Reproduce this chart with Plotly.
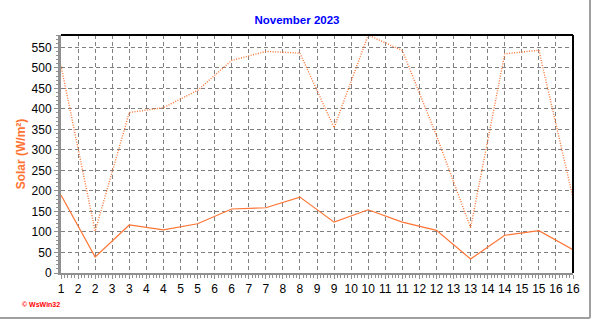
import plotly.graph_objects as go

days = list(range(1, 17))
solar_avg = [190, 39, 117, 105, 120, 156, 159, 185, 124, 154, 124, 104, 34, 92, 103, 57]
solar_max = [505, 102, 391, 403, 445, 518, 540, 536, 354, 580, 542, 335, 110, 534, 543, 183]

tick_vals = [1 + 0.5 * i for i in range(31)]
tick_text = ["1", "2", "2", "3", "3", "4", "4", "5", "5", "6", "6", "7", "7", "8", "8",
             "9", "9", "10", "10", "11", "11", "12", "12", "13", "13", "14", "14",
             "15", "15", "16", "16"]

ORANGE = "#FF7433"
FONT = "Arial, Liberation Sans, sans-serif"

fig = go.Figure()
fig.add_trace(go.Scatter(x=days, y=solar_max, mode="lines",
                         line=dict(color=ORANGE, width=1.4, dash="1px,1.5px"),
                         hoverinfo="skip", showlegend=False))
fig.add_trace(go.Scatter(x=days, y=solar_avg, mode="lines",
                         line=dict(color=ORANGE, width=1.2),
                         hoverinfo="skip", showlegend=False))

L, R, T, B = 61, 19, 35, 48
W, H = 592, 321
pw, ph = W - L - R, H - T - B

fig.update_layout(
    width=W, height=H,
    margin=dict(l=L, r=R, t=T, b=B),
    paper_bgcolor="white", plot_bgcolor="white",
    font=dict(family=FONT, size=12, color="black"),
    title=dict(text="<b>November 2023</b>", x=297 / W, xanchor="center",
               y=1 - 20 / H, yanchor="middle",
               font=dict(family=FONT, size=11.5, color="#0000FF")),
    xaxis=dict(range=[1, 16], tickmode="array", tickvals=tick_vals, ticktext=tick_text,
               showgrid=True, gridcolor="#808080", griddash="4px,3px", gridwidth=1,
               showline=True, linecolor="#909090", linewidth=2,
               ticks="outside", ticklen=4, tickcolor="#909090",
               minor=dict(dtick=0.1, ticks="outside", ticklen=3, tickcolor="#909090", showgrid=False),
               zeroline=False, tickfont=dict(size=12), fixedrange=True),
    yaxis=dict(range=[0, 580], tickmode="linear", tick0=0, dtick=50,
               showgrid=True, gridcolor="#808080", griddash="4px,3px", gridwidth=1,
               showline=True, linecolor="#909090", linewidth=3,
               ticks="outside", ticklen=4, tickcolor="#909090",
               minor=dict(dtick=10, ticks="outside", ticklen=2, tickcolor="#909090", showgrid=False),
               zeroline=False, tickfont=dict(size=12), fixedrange=True,
               title=dict(text="<b>Solar (W/m²)</b>", standoff=4,
                          font=dict(family=FONT, size=12, color=ORANGE))),
)

# black top/right border
fig.add_shape(type="line", xref="paper", yref="paper", x0=0, x1=1, y0=1, y1=1,
              line=dict(color="black", width=2))
fig.add_shape(type="line", xref="paper", yref="paper", x0=1, x1=1, y0=0, y1=1,
              line=dict(color="black", width=2))
# outer window border (right & bottom, grey)
bx = (590 - L) / pw
by = -(318 - (T + ph)) / ph
fig.add_shape(type="line", xref="paper", yref="paper", x0=bx, x1=bx, y0=by, y1=1 + T / ph,
              line=dict(color="#A0A0A0", width=2))
fig.add_shape(type="line", xref="paper", yref="paper", x0=-L / pw, x1=bx, y0=by, y1=by,
              line=dict(color="#A0A0A0", width=2))

fig.add_annotation(text="<b>© WsWin32</b>", xref="paper", yref="paper",
                   x=(20 - L) / pw, y=-(304 - (T + ph)) / ph, xanchor="left", yanchor="middle",
                   showarrow=False, font=dict(family=FONT, size=7, color="#FF0000"))

fig.write_html("out.html")
